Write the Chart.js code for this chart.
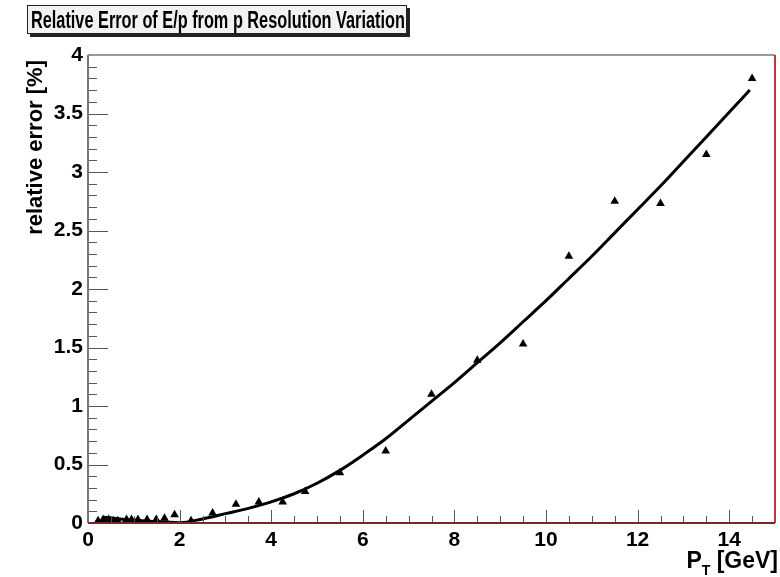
<!DOCTYPE html>
<html>
<head>
<meta charset="utf-8">
<script src="https://cdn.jsdelivr.net/npm/chart.js@4"></script>
<style>
  body { margin: 0; background: #fff; }
  #wrap { position: relative; width: 780px; height: 577px; }
  #title {
    position: absolute; left: 27px; top: 5px; width: 378px; height: 27px;
    background: #f2f2f2; border: 1px solid #222;
    box-shadow: 3px 3px 0 #222; overflow: hidden;
  }
  #title span {
    position: absolute; left: 3px; top: 0;
    font: bold 23px "Liberation Sans", Arial, sans-serif; line-height: 28px;
    white-space: nowrap; transform-origin: 0 0;
  }
</style>
</head>
<body>
<div id="wrap">
  <canvas id="c" width="780" height="577"></canvas>
  <div id="title"><span>Relative Error of E/p from p Resolution Variation</span></div>
</div>
<script>
// measured points (triangles)
const ptValues = [0.22, 0.33, 0.45, 0.55, 0.65, 0.84, 0.95, 1.09, 1.29, 1.49, 1.67, 1.89, 2.25,
  2.72, 3.23, 3.73, 4.25, 4.74, 5.5, 6.5, 7.5, 8.5, 9.5, 10.5, 11.5, 12.5, 13.5, 14.5];
const errValues = [0.02, 0.03, 0.03, 0.02, 0.02, 0.03, 0.03, 0.03, 0.03, 0.03, 0.04, 0.07, 0.02,
  0.085, 0.16, 0.18, 0.18, 0.27, 0.43, 0.615, 1.10, 1.39, 1.53, 2.28, 2.75, 2.73, 3.15, 3.80];

// fit curve
const fitPt = [0.35, 0.7, 1.0, 1.5, 2.0, 2.5, 3.0, 3.5, 4.0, 4.5, 5.0, 5.5, 6.0, 6.5, 7.0, 7.5,
  8.0, 8.5, 9.0, 9.5, 10.0, 10.5, 11.0, 11.5, 12.0, 12.5, 13.0, 13.5, 14.0, 14.45];
const fitErr = [0.05, 0.035, 0.025, 0.01, 0.003, 0.035, 0.08, 0.125, 0.18, 0.25, 0.34, 0.45, 0.58,
  0.72, 0.88, 1.04, 1.20, 1.37, 1.54, 1.72, 1.90, 2.09, 2.28, 2.48, 2.68, 2.88, 3.09, 3.30, 3.51, 3.70];

const FONT = '"Liberation Sans", Arial, sans-serif';

// squeeze the title into its box like the ROOT picture
const tspan = document.querySelector("#title span");
tspan.style.transform = "scaleX(" + (374 / tspan.offsetWidth) + ")";

// ticks + frame like ROOT
const frame = {
  id: "frame",
  afterDraw(chart) {
    const { ctx, chartArea: a, scales } = chart;
    const xs = scales.x, ys = scales.y;
    ctx.save();
    ctx.lineWidth = 1;
    ctx.strokeStyle = "#555";
    // y ticks (inside)
    for (let i = 0; i <= 40; i++) {
      const py = Math.round(ys.getPixelForValue(i / 10)) + 0.5;
      const len = i % 5 === 0 ? 20 : 9;
      ctx.beginPath();
      ctx.moveTo(a.left, py);
      ctx.lineTo(a.left + len, py);
      ctx.stroke();
    }
    // x ticks (inside)
    for (let i = 0; i <= 30; i++) {
      const px = Math.round(xs.getPixelForValue(i / 2)) + 0.5;
      const len = i % 4 === 0 ? 13 : 7;
      ctx.beginPath();
      ctx.moveTo(px, a.bottom);
      ctx.lineTo(px, a.bottom - len);
      ctx.stroke();
    }
    // frame lines
    ctx.lineWidth = 2;
    ctx.strokeStyle = "#999";
    ctx.beginPath();
    ctx.moveTo(a.left, a.top); ctx.lineTo(a.right, a.top); ctx.stroke();
    ctx.strokeStyle = "#777";
    ctx.beginPath();
    ctx.moveTo(a.left, a.top); ctx.lineTo(a.left, a.bottom); ctx.stroke();
    ctx.strokeStyle = "#c0393b";
    ctx.beginPath();
    ctx.moveTo(a.right, a.top); ctx.lineTo(a.right, a.bottom); ctx.stroke();
    ctx.strokeStyle = "#7a2626";
    ctx.beginPath();
    ctx.moveTo(a.left, a.bottom); ctx.lineTo(a.right, a.bottom); ctx.stroke();

    ctx.fillStyle = "#000";
    // y axis title, rotated
    ctx.save();
    ctx.translate(36, 60);
    ctx.rotate(-Math.PI / 2);
    ctx.textAlign = "right";
    ctx.textBaseline = "middle";
    ctx.font = "bold 22px " + FONT;
    ctx.fillText("relative error [%]", 0, 0);
    ctx.restore();

    // x axis title with subscript
    ctx.textBaseline = "alphabetic";
    ctx.textAlign = "left";
    ctx.font = "bold 23px " + FONT;
    const rest = " [GeV]";
    const wRest = ctx.measureText(rest).width;
    const wP = ctx.measureText("P").width;
    ctx.font = "bold 14px " + FONT;
    const wT = ctx.measureText("T").width;
    const x0 = 778 - wRest - wT - wP;
    ctx.font = "bold 23px " + FONT;
    ctx.fillText("P", x0, 568);
    ctx.font = "bold 14px " + FONT;
    ctx.fillText("T", x0 + wP, 575);
    ctx.font = "bold 23px " + FONT;
    ctx.fillText(rest, x0 + wP + wT, 568);
    ctx.restore();
  },
};

new Chart(document.getElementById("c"), {
  type: "scatter",
  data: {
    datasets: [
      {
        label: "fit",
        data: fitPt.map((x, i) => ({ x, y: fitErr[i] })),
        showLine: true,
        borderColor: "#000",
        borderWidth: 3,
        pointRadius: 0,
        cubicInterpolationMode: "monotone",
      },
      {
        label: "points",
        data: ptValues.map((x, i) => ({ x, y: errValues[i] })),
        pointStyle: "triangle",
        pointRadius: 5,
        backgroundColor: "#000",
        borderColor: "#000",
        borderWidth: 0,
      },
    ],
  },
  options: {
    responsive: false,
    animation: false,
    layout: { padding: { top: 55, right: 2, left: 0, bottom: 0 } },
    plugins: { legend: { display: false }, tooltip: { enabled: false } },
    scales: {
      x: {
        type: "linear",
        min: 0,
        max: 15,
        grid: { display: false, drawTicks: false, tickLength: 0 },
        border: { display: false },
        afterFit: (s) => { s.height = 54; },
        ticks: {
          stepSize: 2,
          color: "#000",
          font: { family: FONT, size: 21, weight: "bold" },
          padding: 5,
          maxRotation: 0,
          callback: (v) => (v % 2 === 0 && v <= 14 ? String(v) : ""),
        },
      },
      y: {
        min: 0,
        max: 4,
        grid: { display: false, drawTicks: false, tickLength: 0 },
        border: { display: false },
        afterFit: (s) => { s.width = 88; },
        ticks: {
          stepSize: 0.5,
          color: "#000",
          padding: 5,
          font: { family: FONT, size: 21, weight: "bold" },
          callback: (v) => String(v),
        },
      },
    },
  },
  plugins: [frame],
});
</script>
</body>
</html>
